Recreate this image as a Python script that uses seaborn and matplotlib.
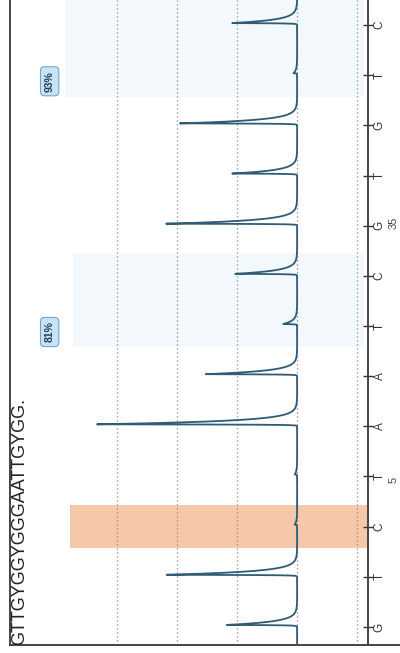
"""
Pyrogram (rotated view) - CpG methylation run.
"""

import numpy as np
import matplotlib
matplotlib.use('Agg')
import matplotlib.pyplot as plt
from matplotlib.lines import Line2D
import seaborn as sns

# dispensation order and peak heights
dispensations = ['G', 'T', 'C', 'T', 'A', 'A', 'T', 'C', 'G', 'T', 'G', 'T', 'C']
peak_heights = [1.17, 2.17, 0.04, 0.04, 3.33, 1.52, 0.23, 1.03, 2.18, 1.08, 1.95, 0.06, 1.08]
sequence_title = 'GTTGYGGYGGGAATTGYGG.'
variable_labels = ['81%', '93%']
variable_positions = [7, 12]
control_position = 3
grid_levels = [-1, 0, 1, 2, 3]
side_numbers = ['5', '35']

sns.set_style('white')
plt.rcParams['font.family'] = ['Liberation Sans', 'DejaVu Sans']

positions = np.arange(1, len(dispensations) + 1)

# build the trace: sharp rise, exponential tail toward later dispensations
t = np.arange(0.6, 13.6, 0.002)
signal = np.zeros_like(t)
for p, h in zip(positions, peak_heights):
    t0 = p + 0.04
    rise = np.exp(np.clip((t - t0) / 0.005, -50, 0))
    decay = np.exp(-np.clip(t - t0, 0, None) / 0.07)
    signal += h * np.where(t < t0, rise, decay)

fig = plt.figure(figsize=(4.0, 6.53), dpi=100)
ax = fig.add_axes([10 / 400, 8 / 653, 358 / 400, 645 / 653])

# highlight bands
ax.axhspan(control_position - 0.43, control_position + 0.43, xmin=60 / 358, xmax=1,
           color='#f6c8aa', lw=0, zorder=0)
ax.axhspan(variable_positions[0] - 0.42, variable_positions[0] + 1.46, xmin=63 / 358, xmax=0.99,
           color='#f2f8fc', lw=0, zorder=0)
ax.axhspan(variable_positions[1] - 0.44, variable_positions[1] + 1.6, xmin=55 / 358, xmax=0.99,
           color='#f2f8fc', lw=0, zorder=0)

for g in grid_levels:
    ax.axvline(g, color='#8a8a8a', lw=0.9, ls=(0, (1, 2.2)), zorder=1)

sns.lineplot(x=signal, y=t, orient='y', sort=False, estimator=None,
             color='#2f5b77', lw=1.3, ax=ax, zorder=3)

ax.set_xlim(4.78, -1.18)
ax.set_ylim(0.64, 13.5)
ax.set_yticks(positions)
ax.set_yticklabels(dispensations, rotation=90, va='center', fontsize=8.5, color='#333333')
ax.yaxis.tick_right()
ax.tick_params(axis='y', direction='inout', length=7, width=1.0, pad=0.5, colors='#333333')
ax.set_xticks([])
ax.set_xlabel('')
ax.set_ylabel('')

for side in ['left', 'bottom', 'right']:
    ax.spines[side].set_color('#444444')
    ax.spines[side].set_linewidth(1.4)
ax.spines['top'].set_visible(False)

# percentage boxes for the variable positions
for lab, p in zip(variable_labels, variable_positions):
    ax.text(4.12, p - 0.12, lab, rotation=90, ha='center', va='center',
            fontsize=7.5, color='#1f3f5a', fontweight='bold',
            bbox=dict(boxstyle='round,pad=0.4', fc='#c9e3f4', ec='#6fa6d2', lw=0.8),
            zorder=4)

# title along the left edge
fig.text(20 / 400, 1 - 645 / 653, sequence_title, rotation=90, ha='center', va='bottom',
         fontsize=13, color='#222222')

# run numbers on the right margin
fig.text(394 / 400, 1 - 480 / 653, side_numbers[0], rotation=90, ha='center', va='center',
         fontsize=8, color='#444444')
fig.text(394 / 400, 1 - 223 / 653, side_numbers[1], rotation=90, ha='center', va='center',
         fontsize=8, color='#444444')

# bottom frame continues past the axis
fig.add_artist(Line2D([368 / 400, 1.0], [8 / 653, 8 / 653], color='#444444', lw=1.4))

fig.savefig('out.png', dpi=100)
plt.close(fig)
